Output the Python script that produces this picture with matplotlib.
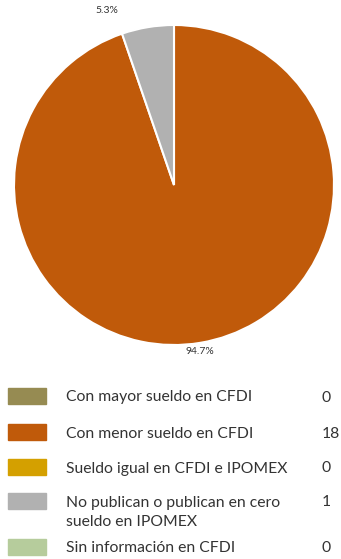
import matplotlib
matplotlib.use("Agg")
import matplotlib.pyplot as plt
from matplotlib.patches import Rectangle

plt.rcParams['font.family'] = ['Lato', 'DejaVu Sans']

categories = ["Con mayor sueldo en CFDI", "Con menor sueldo en CFDI",
              "Sueldo igual en CFDI e IPOMEX",
              "No publican o publican en cero\nsueldo en IPOMEX",
              "Sin información en CFDI"]
values = [0, 18, 0, 1, 0]
colors = ["#968B52", "#C05A0A", "#D4A000", "#B1B1B1", "#B6CC9C"]

W, H = 341, 559
fig = plt.figure(figsize=(W / 100, H / 100), dpi=100)
cx, cy, r = 174, 185, 160
ax = fig.add_axes([(cx - r) / W, (H - cy - r) / H, 2 * r / W, 2 * r / H])
ax.set_aspect('equal')
ax.axis('off')

pv = [v for v in values if v > 0]
pc = [c for v, c in zip(values, colors) if v > 0]
total = sum(pv)
wedges, _ = ax.pie(pv, colors=pc, startangle=90, counterclock=False, radius=1,
                   wedgeprops=dict(edgecolor='white', linewidth=1.5))
ax.set_xlim(-1, 1)
ax.set_ylim(-1, 1)

# label positions (data units) for the percentage labels
label_pos = [(0.16, -1.04), (-0.42, 1.09)]
for v, (x, y) in zip(pv, label_pos):
    ax.text(x, y, f"{100 * v / total:.1f}%", ha='center', va='center',
            fontsize=7.5, color='#333333')

# legend
fs = 11.3
rows_y = [396, 432, 467, 501, 547]
for cat, val, col, y in zip(categories, values, colors, rows_y):
    fig.patches.append(Rectangle((8 / W, 1 - (y + 8) / H), 38 / W, 16 / H,
                                 transform=fig.transFigure, color=col))
    for i, line in enumerate(cat.split("\n")):
        fig.text(66 / W, 1 - (y + 5.5 + 20 * i) / H, line, ha='left',
                 va='baseline', fontsize=fs, color='#333333')
    fig.text(322 / W, 1 - (y + 5.5) / H, str(val), ha='left', va='baseline',
             fontsize=fs, color='#333333')

fig.savefig("out.png", dpi=100, facecolor='white')
